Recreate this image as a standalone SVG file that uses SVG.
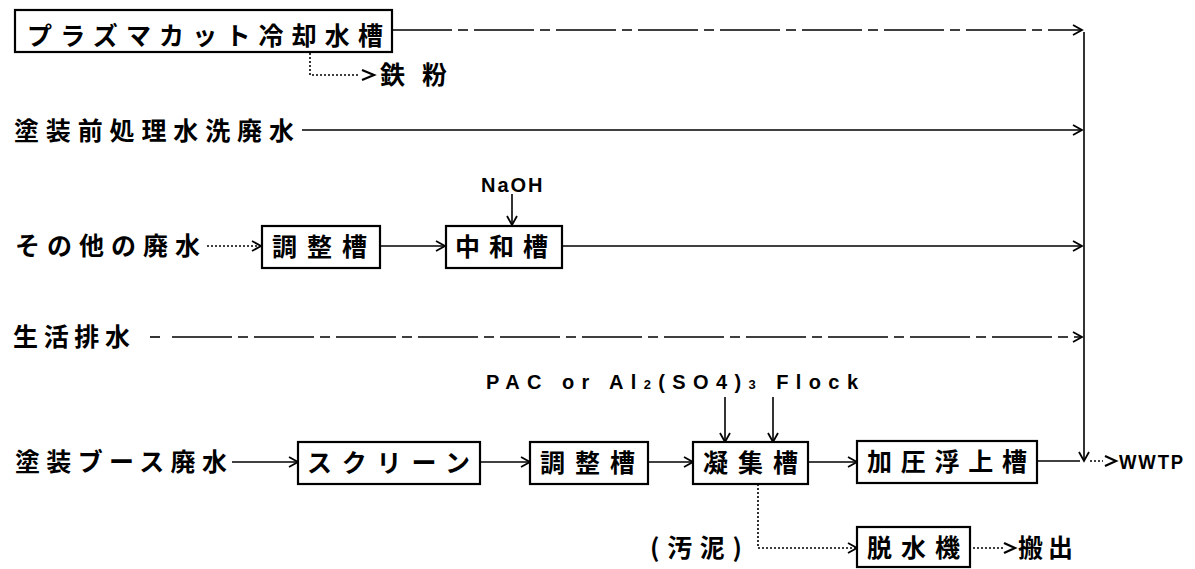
<svg xmlns="http://www.w3.org/2000/svg" width="1195" height="569" viewBox="0 0 1195 569">
<defs>
<marker id="ah" markerWidth="12" markerHeight="12" refX="10" refY="6" orient="auto" markerUnits="userSpaceOnUse">
<path d="M1,1 L10,6 L1,11" fill="none" stroke="#000" stroke-width="1.8"/>
</marker>
<style>
.bx{fill:#fff;stroke:#000;stroke-width:2.2}
.t{font-family:"Noto Sans CJK JP","Liberation Serif",sans-serif;font-size:25px;font-weight:bold;fill:#000}
.e{font-family:"Liberation Sans",sans-serif;font-size:20px;font-weight:bold;fill:#000;letter-spacing:2px}
.ln{fill:none;stroke:#000;stroke-width:1.6}
.ds{fill:none;stroke:#000;stroke-width:1.6;stroke-dasharray:60 6 10 6}
.dt{fill:none;stroke:#000;stroke-width:1.6;stroke-dasharray:2 2}
.ch{fill:none;stroke:#000;stroke-width:2.2}
</style>
</defs>
<rect width="1195" height="569" fill="#fff"/>
<g id="connectors">
<path class="ds" d="M392,30 H1082" marker-end="url(#ah)"/>
<path class="ln" d="M1084,32 V461" marker-end="url(#ah)"/>
<path class="dt" d="M310,53 V75 H360"/>
<path class="ch" d="M362,70 L374,75 L362,80"/>
<path class="ln" d="M302,130 H1082" marker-end="url(#ah)"/>
<path class="ln" d="M512,194 V225" marker-end="url(#ah)"/>
<path class="dt" d="M207,246 H261" stroke-dasharray="6 4" marker-end="url(#ah)"/>
<path class="ln" d="M380,246 H445" marker-end="url(#ah)"/>
<path class="ln" d="M562,246 H1082" marker-end="url(#ah)"/>
<path class="ln" d="M150,337 H160"/>
<path class="ds" d="M172,337 H1082" marker-end="url(#ah)"/>
<path class="ln" d="M725,397 V442" marker-end="url(#ah)"/>
<path class="ln" d="M773,397 V442" marker-end="url(#ah)"/>
<path class="ln" d="M232,462 H298" marker-end="url(#ah)"/>
<path class="ln" d="M480,462 H530" marker-end="url(#ah)"/>
<path class="ln" d="M648,462 H693" marker-end="url(#ah)"/>
<path class="ln" d="M808,462 H857" marker-end="url(#ah)"/>
<path class="ln" d="M1037,461 H1080"/>
<path class="dt" d="M1090,461 H1103" stroke-dasharray="4 3"/>
<path class="ch" d="M1105,456 L1116,461 L1105,466"/>
<path class="dt" d="M758,484 V548 H857" marker-end="url(#ah)"/>
<path class="dt" d="M973,548 H1004"/>
<path class="ch" d="M1004,543 L1015,548 L1004,553"/>
</g>
<g id="n-plasma"><rect class="bx" x="15" y="10" width="377" height="42"/><text class="t" x="27" y="45" textLength="356" lengthAdjust="spacing">プラズマカット冷却水槽</text></g>
<g id="n-iron"><text class="t" x="380" y="84" textLength="67" lengthAdjust="spacing">鉄粉</text></g>
<g id="n-pretreat"><text class="t" x="14" y="140" textLength="280" lengthAdjust="spacing">塗装前処理水洗廃水</text></g>
<g id="n-naoh"><text class="e" x="481" y="192">NaOH</text></g>
<g id="n-other"><text class="t" x="15" y="255" textLength="185" lengthAdjust="spacing">その他の廃水</text></g>
<g id="n-adj1"><rect class="bx" x="262" y="226" width="118" height="42"/><text class="t" x="272" y="256" textLength="95" lengthAdjust="spacing">調整槽</text></g>
<g id="n-neut"><rect class="bx" x="446" y="226" width="116" height="42"/><text class="t" x="455" y="256" textLength="93" lengthAdjust="spacing">中和槽</text></g>
<g id="n-domestic"><text class="t" x="13" y="346" textLength="117" lengthAdjust="spacing">生活排水</text></g>
<g id="n-pac"><text class="e" x="486" y="389" textLength="374" lengthAdjust="spacing">PAC or Al<tspan font-size="13">2</tspan>(SO4)<tspan font-size="13">3</tspan> Flock</text></g>
<g id="n-booth"><text class="t" x="15" y="471" textLength="212" lengthAdjust="spacing">塗装ブース廃水</text></g>
<g id="n-screen"><rect class="bx" x="298" y="442" width="182" height="42"/><text class="t" x="307" y="472" textLength="163" lengthAdjust="spacing">スクリーン</text></g>
<g id="n-adj2"><rect class="bx" x="530" y="442" width="118" height="42"/><text class="t" x="540" y="472" textLength="95" lengthAdjust="spacing">調整槽</text></g>
<g id="n-coag"><rect class="bx" x="693" y="442" width="115" height="42"/><text class="t" x="703" y="472" textLength="95" lengthAdjust="spacing">凝集槽</text></g>
<g id="n-daf"><rect class="bx" x="857" y="441" width="180" height="42"/><text class="t" x="867" y="471" textLength="160" lengthAdjust="spacing">加圧浮上槽</text></g>
<g id="n-wwtp"><text class="e" x="1119" y="469" font-size="18" textLength="66" lengthAdjust="spacingAndGlyphs">WWTP</text></g>
<g id="n-sludge"><text class="t" x="650" y="557" textLength="92" lengthAdjust="spacing">(汚泥)</text></g>
<g id="n-dewater"><rect class="bx" x="857" y="527" width="113" height="40"/><text class="t" x="867" y="557" textLength="93" lengthAdjust="spacing">脱水機</text></g>
<g id="n-out"><text class="t" x="1018" y="557" textLength="55" lengthAdjust="spacing">搬出</text></g>
</svg>
